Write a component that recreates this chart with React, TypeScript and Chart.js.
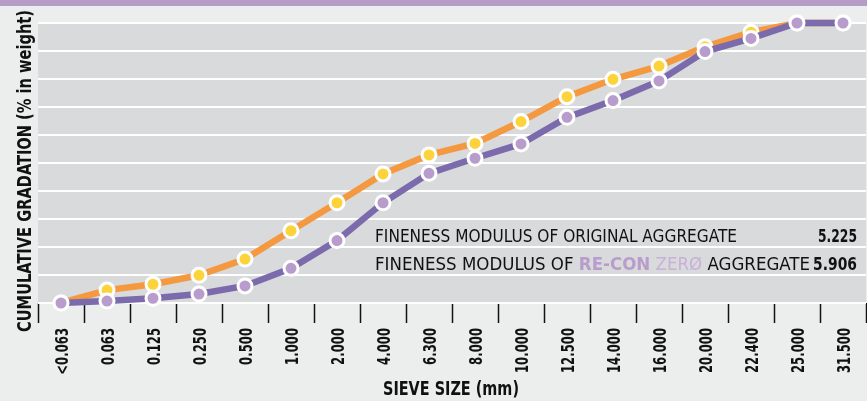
import React, { useEffect, useRef } from "react";
import { Chart, registerables } from "chart.js";

Chart.register(...registerables);

const sieveSizes = ["<0.063", "0.063", "0.125", "0.250", "0.500", "1.000", "2.000", "4.000", "6.300", "8.000", "10.000", "12.500", "14.000", "16.000", "20.000", "22.400", "25.000", "31.500"];
const originalAggregate = [0, 4.6, 6.7, 9.9, 15.7, 25.8, 35.8, 46.1, 52.9, 57.0, 64.8, 73.7, 79.9, 84.6, 91.5, 96.7, 100, 100];
const reconZeroAggregate = [0, 0.7, 1.7, 3.2, 6.1, 12.4, 22.3, 35.8, 46.3, 51.7, 56.8, 66.3, 72.3, 79.3, 89.8, 94.5, 100, 100];
const fmValues = ["5.225", "5.906"];
const yTitle = "CUMULATIVE GRADATION (% in weight)";
const xTitle = "SIEVE SIZE (mm)";

const NARROW = '"Liberation Sans Narrow", "DejaVu Sans Condensed", "Arial Narrow", sans-serif';

function fitText(ctx: CanvasRenderingContext2D, text: string, x: number, y: number, target: number) {
  const w = ctx.measureText(text).width;
  const s = w > 0 ? target / w : 1;
  ctx.save();
  ctx.translate(x, y);
  ctx.scale(s, 1);
  ctx.fillText(text, 0, 0);
  ctx.restore();
}

const decor = {
  id: "decor",
  beforeDraw(chart: any) {
    const { ctx, chartArea: a, width, height } = chart;
    ctx.save();
    ctx.fillStyle = "#eceeed";
    ctx.fillRect(0, 0, width, height);
    ctx.fillStyle = "#b89cc8";
    ctx.fillRect(0, 0, width, 6);
    ctx.fillStyle = "#d9dadc";
    ctx.fillRect(a.left, a.top, a.right - a.left, a.bottom - a.top);
    ctx.restore();
  },
  afterDraw(chart: any) {
    const { ctx, chartArea: a } = chart;
    const xs = chart.scales.x;
    ctx.save();
    ctx.fillStyle = "#111";
    ctx.textBaseline = "alphabetic";
    ctx.textAlign = "left";

    // X tick labels (rotated, reading upward, ending near the axis)
    ctx.font = `bold 17px ${NARROW}`;
    const labels = chart.data.labels as string[];
    const comp = 45 / ctx.measureText("10.000").width;
    labels.forEach((lab, i) => {
      const px = xs.getPixelForTick(i);
      ctx.save();
      ctx.translate(px + 6.5, a.bottom + 25);
      ctx.rotate(-Math.PI / 2);
      ctx.scale(comp, 1);
      ctx.textAlign = "right";
      ctx.fillText(lab, 0, 0);
      ctx.restore();
    });

    // Y title
    ctx.font = `bold 20px ${NARROW}`;
    ctx.save();
    ctx.translate(31, 332);
    ctx.rotate(-Math.PI / 2);
    fitText(ctx, yTitle, 0, 0, 322);
    ctx.restore();
    // X title
    ctx.font = `bold 20px ${NARROW}`;
    fitText(ctx, xTitle, 383, 395, 136);

    // Fineness modulus lines
    const x0 = a.left + 337;
    const xr = a.right - 9;
    const y1 = 242.3;
    const y2 = 270;
    ctx.font = `17px ${NARROW}`;
    fitText(ctx, "FINENESS MODULUS OF ORIGINAL AGGREGATE", x0, y1, 362);

    const segs = [
      { t: "FINENESS MODULUS OF ", f: `17px ${NARROW}`, c: "#111" },
      { t: "RE-CON", f: `bold 17px ${NARROW}`, c: "#b99ccb" },
      { t: " ", f: `17px ${NARROW}`, c: "#111" },
      { t: "ZERØ", f: `17px ${NARROW}`, c: "#c8b0d8" },
      { t: " AGGREGATE", f: `17px ${NARROW}`, c: "#111" },
    ];
    let total = 0;
    segs.forEach((s) => { ctx.font = s.f; total += ctx.measureText(s.t).width; });
    const sc = 435 / total;
    ctx.save();
    ctx.translate(x0, y2);
    ctx.scale(sc, 1);
    let cx = 0;
    segs.forEach((s) => {
      ctx.font = s.f;
      ctx.fillStyle = s.c;
      ctx.fillText(s.t, cx, 0);
      cx += ctx.measureText(s.t).width;
    });
    ctx.restore();

    ctx.fillStyle = "#111";
    ctx.font = `bold 17px ${NARROW}`;
    ctx.textAlign = "right";
    const w1 = ctx.measureText(fmValues[0]).width;
    ctx.save();
    ctx.translate(xr, y1);
    ctx.scale(39 / w1, 1);
    ctx.fillText(fmValues[0], 0, 0);
    ctx.restore();
    ctx.save();
    ctx.translate(xr, y2);
    ctx.scale(44 / w1, 1);
    ctx.fillText(fmValues[1], 0, 0);
    ctx.restore();
    ctx.restore();
  },
};

export default function App() {
  const ref = useRef<HTMLCanvasElement | null>(null);
  useEffect(() => {
    if (!ref.current) return;
    const chart = new Chart(ref.current, {
      type: "line",
      data: {
        labels: sieveSizes,
        datasets: [
          {
            label: "RE-CON ZERØ",
            data: reconZeroAggregate,
            borderColor: "#7b6bad",
            borderWidth: 6.5,
            pointBackgroundColor: "#b89ccb",
            pointBorderColor: "#ffffff",
            pointBorderWidth: 3,
            pointRadius: 7,
            tension: 0,
            clip: false,
          },
          {
            label: "Original",
            data: originalAggregate,
            borderColor: "#f4993f",
            borderWidth: 6.5,
            pointBackgroundColor: "#fdd33b",
            pointBorderColor: "#ffffff",
            pointBorderWidth: 3,
            pointRadius: 7,
            tension: 0,
            clip: false,
          },
        ],
      },
      options: {
        animation: false,
        responsive: false,
        maintainAspectRatio: false,
        layout: { autoPadding: false, padding: { top: 23, right: 1, left: 0, bottom: 0 } },
        plugins: { legend: { display: false }, tooltip: { enabled: false } },
        scales: {
          x: {
            offset: true,
            border: { display: false },
            grid: {
              offset: true,
              drawOnChartArea: false,
              drawTicks: true,
              tickLength: 20,
              tickColor: "#111",
              tickWidth: 1.5,
            },
            ticks: {
              display: false,
              autoSkip: false,
              minRotation: 0,
              maxRotation: 0,
            },
            afterFit: (s: any) => { s.height = 98; s.paddingLeft = 0; s.paddingRight = 0; },
          },
          y: {
            min: 0,
            max: 100,
            border: { display: false },
            grid: { color: "#ffffff", lineWidth: 2, drawTicks: false },
            ticks: { display: false, stepSize: 10 },
            afterFit: (s: any) => { s.width = 38; },
          },
        },
      },
      plugins: [decor],
    } as any);
    return () => chart.destroy();
  }, []);
  return (
    <div style={{ position: "fixed", left: 0, top: 0, width: 867, height: 401, background: "#eceeed" }}>
      <canvas ref={ref} width={867} height={401} style={{ display: "block", width: 867, height: 401 }} />
    </div>
  );
}
